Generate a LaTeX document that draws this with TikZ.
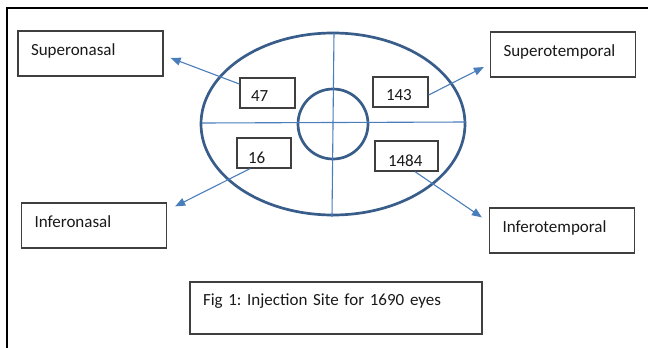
\documentclass[tikz,border=0pt]{standalone}
\usepackage{fontspec}
\setmainfont{Carlito}
\usetikzlibrary{arrows.meta,positioning}
\definecolor{eyeblue}{HTML}{385D8A}
\definecolor{lineblue}{HTML}{4A7EBB}
\definecolor{boxgray}{HTML}{3F3F3F}
\frenchspacing

\tikzset{
  sitebox/.style={draw=boxgray, line width=1.3pt, minimum width=145pt, minimum height=45pt,
    text width=119pt, inner xsep=13pt, inner ysep=0pt, align=left,
    text height=13pt, text depth=10pt},
  countbox/.style={draw=boxgray, line width=1.3pt, minimum height=30pt, inner ysep=0pt,
    align=left, text height=16pt, text depth=0pt},
  pointer/.style={lineblue, line width=1.1pt, -{Triangle[length=10pt,width=8pt]}}
}

\begin{document}
\begin{tikzpicture}[x=1pt, y=-1pt, font=\fontsize{17}{20}\selectfont, text=black!90]
  \useasboundingbox (0,0) rectangle (648,348);
  % frame
  \draw[line width=2.5pt] (7,348) -- (7,8) -- (648,8);

  % the eye
  \coordinate (eye) at (333,124);
  \draw[eyeblue, line width=2.7pt] (eye) ellipse [x radius=132, y radius=91];
  \draw[eyeblue, line width=2.7pt] (eye) circle [radius=35];
  \draw[lineblue, line width=1.1pt] (202,123) -- (466,122);
  \draw[lineblue, line width=1.1pt] (334,33) -- (332,217);

  % quadrant names
  \node[sitebox] (SN) at (90.5,53.5) {Superonasal};
  \node[sitebox] (ST) at (563,54.5) {Superotemporal};
  \node[sitebox] (IN) at (94,225.5) {Inferonasal};
  \node[sitebox] (IT) at (562,230.5) {Inferotemporal};

  % counts
  \node[countbox, text width=33pt, inner xsep=11pt] (n47) at (267.5,93) {47};
  \node[countbox, text width=29pt, inner xsep=13pt] (n143) at (400.5,92) {143};
  \node[countbox, text width=32pt, inner xsep=11pt, text height=20pt] (n16) at (264,153) {16};
  \node[countbox, text width=37pt, inner xsep=13pt, text height=20pt] (n1484) at (406.5,156) {1484};

  \draw[pointer] ([yshift=9pt]n47.west) -- ([xshift=7pt,yshift=-4.5pt]SN.east);
  \draw[pointer] ([yshift=-3pt]n143.east) -- ([xshift=-6pt,yshift=-12.5pt]ST.west);
  \draw[pointer] ([xshift=-14pt]n16.south) -- ([xshift=8pt,yshift=-4pt]IN.north east);
  \draw[pointer] ([xshift=8.5pt]n1484.south) -- ([xshift=-7pt,yshift=-10pt]IT.north west);

  % caption
  \node[sitebox, minimum width=292pt, minimum height=52pt, text width=266pt,
    text height=12pt, text depth=18pt] (cap) at (336,308) {Fig 1: Injection Site for 1690 eyes};
\end{tikzpicture}
\end{document}
